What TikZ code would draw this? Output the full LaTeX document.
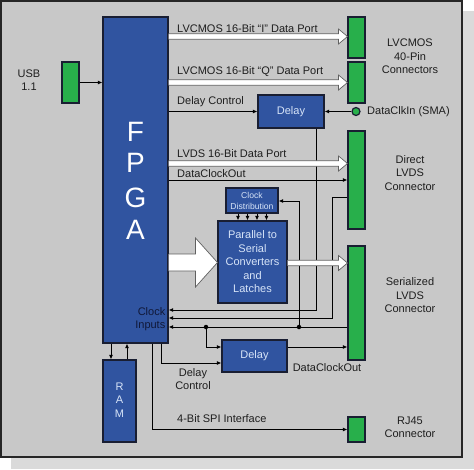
\documentclass[tikz,border=0pt]{standalone}
\usepackage{fontspec}
\setmainfont{Liberation Sans}
\usetikzlibrary{arrows.meta}
\definecolor{bg}{RGB}{200,200,200}
\definecolor{shadowc}{RGB}{218,218,218}
\definecolor{fblue}{RGB}{48,84,160}
\definecolor{cgreen}{RGB}{40,175,75}
\definecolor{txt}{RGB}{30,30,30}
\definecolor{boxtxt}{RGB}{215,228,248}
\definecolor{edge}{RGB}{25,30,50}
\definecolor{navytxt}{RGB}{16,24,56}
\newcommand{\fatarrow}[6]{\draw[fat] (#1,#3-#4) -- (#2-#6,#3-#4) -- (#2-#6,#3-#5) -- (#2,#3) -- (#2-#6,#3+#5) -- (#2-#6,#3+#4) -- (#1,#3+#4);}
\begin{document}
\begin{tikzpicture}[x=1pt,y=-1pt,
  bluebox/.style={draw=edge, line width=1.2pt, fill=fblue, text=boxtxt, inner sep=0pt, font=\fontsize{11}{13.5}\selectfont, align=center},
  conn/.style={draw=edge, line width=1.2pt, fill=cgreen, inner sep=0pt, minimum width=17pt},
  lbl/.style={text=txt, font=\fontsize{11}{13.5}\selectfont, inner sep=0pt, align=center},
  wire/.style={draw=black, line width=0.9pt},
  tip/.style={-{Latex[length=4.5pt,width=4pt]}},
  fat/.style={draw=gray!75!black, line width=0.7pt, fill=white},
  dot/.style={circle, fill=black, inner sep=0pt, minimum size=4.5pt}
]
\useasboundingbox (0,0) rectangle (474,469);
\fill[white] (0,0) rectangle (474,469);
\fill[shadowc] (11,11) rectangle (474,469);
\draw[fill=bg, draw=black!85, line width=2pt] (1,1) rectangle (462,457);

% blocks
\node[bluebox, minimum width=65pt, minimum height=326pt] (fpga) at (135.5,180) {};
\node[bluebox, minimum width=33pt, minimum height=82pt] (ram) at (119.5,401) {};
\node[bluebox, minimum width=66pt, minimum height=33pt] (delay1) at (291,111.5) {Delay};
\node[bluebox, minimum width=65pt, minimum height=32pt] (delay2) at (254.5,356) {Delay};
\node[bluebox, minimum width=52pt, minimum height=25pt, font=\fontsize{8.6}{11}\selectfont] (clkdist) at (252,200.5) {Clock\\Distribution};
\node[bluebox, minimum width=69pt, minimum height=82pt] (p2s) at (252.5,262) {Parallel to\\Serial\\Converters\\and\\Latches};

% FPGA letters
\foreach \l/\yy in {F/132,P/163,G/197.5,A/230}
  \node[text=white, font=\fontsize{28}{28}\selectfont, inner sep=0pt] at (135.5,\yy) {\l};
\node[text=navytxt, font=\fontsize{11}{13.5}\selectfont, inner sep=0pt, align=right, anchor=east] (clkin) at (165.5,319) {Clock\\Inputs};
\node[text=boxtxt, font=\fontsize{11}{13.5}\selectfont, inner sep=0pt, align=center] (ramtxt) at (119.5,400) {R\\A\\M};

% connectors
\node[conn, minimum height=41pt] (usb) at (70.5,82.5) {};
\node[conn, minimum height=41pt] (lvi) at (356.5,37.5) {};
\node[conn, minimum height=41pt] (lvq) at (356.5,82.5) {};
\node[conn, minimum height=98pt] (dlvds) at (356.5,180) {};
\node[conn, minimum height=114pt] (slvds) at (356.5,303) {};
\node[conn, minimum height=25pt] (rj45) at (356.5,429.5) {};
\node[circle, draw=edge, line width=1.2pt, fill=cgreen, minimum size=8pt, inner sep=0pt] (sma) at (356,111.5) {};

% wires
\draw[wire,tip] (usb.east) -- (usb.east -| fpga.west);
\draw[wire,tip] (fpga.east |- delay1.west) -- (delay1.west);
\draw[wire,tip] (sma.west) -- (delay1.east);
\draw[wire,tip] (delay1.south -| 316,0) -- (316,310) -- (fpga.east |- 0,310);
\draw[wire,tip] (fpga.east |- 0,180) -- (dlvds.west |- 0,180);
\draw[wire,tip] (dlvds.west |- 0,197) -- (332,197) -- (332,318) -- (fpga.east |- 0,318);
\draw[wire,tip] (slvds.west |- 0,327) -- (fpga.east |- 0,327);
\node[dot] (j1) at (299,327) {};
\node[dot] (j2) at (206,327) {};
\draw[wire,tip] (j1.center) -- (299,201) -- (clkdist.east |- 0,201);
\draw[wire,tip] (j2.center) |- (delay2.west |- 0,347);
\draw[wire,tip] (fpga.south -| 161,0) |- (delay2.west |- 0,363);
\draw[wire,tip] (delay2.east |- 0,347) -- (slvds.west |- 0,347);
\draw[wire,tip] (fpga.south -| 152,0) |- (rj45.west);
\draw[wire,tip] (fpga.south -| 111,0) -- (ram.north -| 111,0);
\draw[wire,tip] (ram.north -| 127,0) -- (fpga.south -| 127,0);
\foreach \xx in {238,247.5,257,266.5}
  \draw[wire,tip] (clkdist.south -| \xx,0) -- (p2s.north -| \xx,0);

% fat hollow arrows
\fatarrow{168.6}{347.5}{36.5}{2.8}{7.5}{9}
\fatarrow{168.6}{347.5}{82.5}{2.8}{7.5}{9}
\fatarrow{168.6}{347.5}{163.5}{2.8}{7.5}{9}
\fatarrow{287.6}{347.5}{263}{2.8}{7.5}{9}
\fatarrow{168.6}{217.5}{262.5}{8.5}{24.5}{22}

% labels
\node[lbl] (usbl) at (29,80) {USB\\1.1};
\node[lbl, anchor=west] (li) at (177,29) {LVCMOS 16-Bit “I” Data Port};
\node[lbl, anchor=west] (lq) at (177,72) {LVCMOS 16-Bit “Q” Data Port};
\node[lbl, anchor=west] (ldc) at (177,101.5) {Delay Control};
\node[lbl, anchor=west] (llv) at (177,154) {LVDS 16-Bit Data Port};
\node[lbl, anchor=west] (ldco) at (177,174) {DataClockOut};
\node[lbl] (lcm) at (410,56.5) {LVCMOS\\40-Pin\\Connectors};
\node[lbl, anchor=west] (lsma) at (367,111.5) {DataClkIn (SMA)};
\node[lbl] (ldir) at (410,173) {Direct\\LVDS\\Connector};
\node[lbl] (lser) at (410,295.5) {Serialized\\LVDS\\Connector};
\node[lbl] (lrj) at (410,427.5) {RJ45\\Connector};
\node[lbl] (ldc2) at (193,379) {Delay\\Control};
\node[lbl] (ldco2) at (327,367.5) {DataClockOut};
\node[lbl, anchor=west] (lspi) at (177,419) {4-Bit SPI Interface};
\end{tikzpicture}
\end{document}
